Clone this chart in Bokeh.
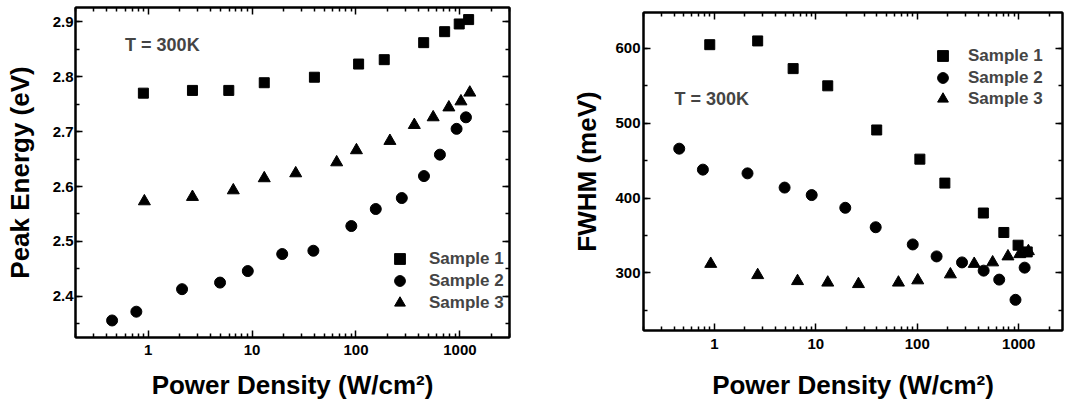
from bokeh.plotting import figure
from bokeh.layouts import row
from bokeh.models import (Range1d, LogAxis, LinearAxis, FixedTicker, SingleIntervalTicker,
                          Legend, LegendItem, Label)
from bokeh.embed import file_html
from bokeh.resources import INLINE

# ---------------- data ----------------
power_s1 = [0.90, 2.67, 5.97, 13.1, 39.8, 106, 187, 448, 713, 985, 1213]
power_s2 = [0.45, 0.77, 2.12, 4.92, 9.1, 19.5, 38.9, 90.2, 155, 276, 451, 642, 929, 1143]
power_s3 = [0.92, 2.67, 6.6, 13.1, 26.3, 65.2, 101, 212, 364, 553, 783, 1023, 1245]

peak_s1 = [2.770, 2.775, 2.775, 2.789, 2.799, 2.823, 2.831, 2.862, 2.882, 2.896, 2.904]
peak_s2 = [2.356, 2.372, 2.413, 2.425, 2.446, 2.477, 2.483, 2.528, 2.559, 2.579, 2.619, 2.658, 2.705, 2.726]
peak_s3 = [2.573, 2.581, 2.593, 2.615, 2.624, 2.644, 2.666, 2.683, 2.712, 2.726, 2.744, 2.755, 2.771]

fwhm_s1 = [605, 610, 573, 550, 491, 452, 420, 380, 354, 337, 328]
fwhm_s2 = [466, 438, 433, 414, 404, 387, 361, 338, 322, 314, 303, 291, 264, 307]
fwhm_s3 = [312, 297, 289, 287, 285, 287, 290, 298, 312, 314, 322, 325, 329]

series_names = ["Sample 1", "Sample 2", "Sample 3"]
x_major_ticks = [1, 10, 100, 1000]
x_tick_labels = ["1", "10", "100", "1000"]
x_minor_ticks = [m * d for d in (0.1, 1, 10, 100, 1000) for m in range(2, 10)]
x_title = "Power Density (W/cm\u00b2)"
annotation = "T = 300K"

FONT = "Liberation Sans"


def style_axis(ax, labels=True):
    ax.axis_line_width = 2
    ax.axis_line_color = "black"
    ax.major_tick_in = 7
    ax.major_tick_out = 0
    ax.minor_tick_in = 4
    ax.minor_tick_out = 0
    ax.major_tick_line_width = 1.5
    ax.minor_tick_line_width = 1.5
    ax.major_tick_line_color = "black"
    ax.minor_tick_line_color = "black"
    ax.major_label_text_font = FONT
    ax.major_label_text_font_style = "bold"
    ax.major_label_text_color = "black"
    ax.axis_label_text_font = FONT
    ax.axis_label_text_font_style = "bold"
    ax.axis_label_text_color = "black"
    ax.axis_label_text_font_size = "26px"
    if labels:
        ax.major_label_text_font_size = "15px"
    else:
        ax.major_label_text_font_size = "1px"
        ax.major_label_text_alpha = 0
        ax.major_label_standoff = 0


def make_panel(xr, yr, ys, ytick_interval, ytitle, width, height, borders, sizes,
               leg_x, leg_ys, leg_standoff, label_pos, ytick_standoff, ystandoff,
               xtick_standoff, xstandoff):
    p = figure(x_axis_type="log", x_range=xr, y_range=yr, width=width, height=height,
               output_backend="svg", toolbar_location=None,
               min_border_left=borders[0], min_border_right=borders[1],
               min_border_top=borders[2], min_border_bottom=borders[3])
    p.frame_align = False
    p.grid.visible = False
    p.outline_line_color = "black"
    p.outline_line_width = 2
    p.background_fill_color = "white"
    p.border_fill_color = "white"

    xt = FixedTicker(ticks=x_major_ticks, minor_ticks=x_minor_ticks)
    yt = SingleIntervalTicker(interval=ytick_interval, num_minor_ticks=2)

    xa = p.xaxis[0]
    xa.ticker = xt
    xa.major_label_overrides = {t: l for t, l in zip(x_major_ticks, x_tick_labels)}
    xa.axis_label = x_title
    style_axis(xa)
    xa.major_label_standoff = xtick_standoff
    xa.axis_label_standoff = xstandoff

    ya = p.yaxis[0]
    ya.ticker = yt
    ya.axis_label = ytitle
    style_axis(ya)
    ya.major_label_standoff = ytick_standoff
    ya.axis_label_standoff = ystandoff

    top = LogAxis(ticker=xt)
    style_axis(top, labels=False)
    p.add_layout(top, "above")
    right = LinearAxis(ticker=yt)
    style_axis(right, labels=False)
    p.add_layout(right, "right")

    markers = ["square", "circle", "triangle"]
    xs = [power_s1, power_s2, power_s3]
    for name, m, x, y, s, ly in zip(series_names, markers, xs, ys, sizes, leg_ys):
        r = p.scatter(x, y, marker=m, size=s, fill_color="black", line_color="black")
        leg = Legend(items=[LegendItem(label=name, renderers=[r])], location=(leg_x, ly),
                     border_line_color=None, background_fill_alpha=0, padding=0, margin=0,
                     spacing=0, glyph_height=27, glyph_width=27, label_standoff=leg_standoff,
                     label_text_font=FONT, label_text_font_style="bold",
                     label_text_font_size="17px", label_height=22)
        p.add_layout(leg)

    p.add_layout(Label(x=label_pos[0], y=label_pos[1], text=annotation,
                       text_font=FONT, text_font_style="bold", text_font_size="18px",
                       text_baseline="middle", text_align="left"))
    return p


p1 = make_panel(Range1d(0.2, 3000), Range1d(2.325, 2.926),
                [peak_s1, peak_s2, peak_s3], 0.1, "Peak Energy (eV)", 540, 412,
                (75, 31, 7, 75), (10, 11, 12), 311, (65, 43, 21), 16,
                (0.6, 2.857), 2, 15, 7, 12)
p2 = make_panel(Range1d(0.2, 2700), Range1d(223, 648),
                [fwhm_s1, fwhm_s2, fwhm_s3], 100, "FWHM (meV)", 527, 412,
                (103, 5, 12, 82), (10, 11, 12), 286, (261, 239, 218), 12,
                (0.404, 532), 3, 10, 8, 18)

layout = row(p1, p2, spacing=0)
open("out.html", "w").write(file_html(layout, INLINE))
